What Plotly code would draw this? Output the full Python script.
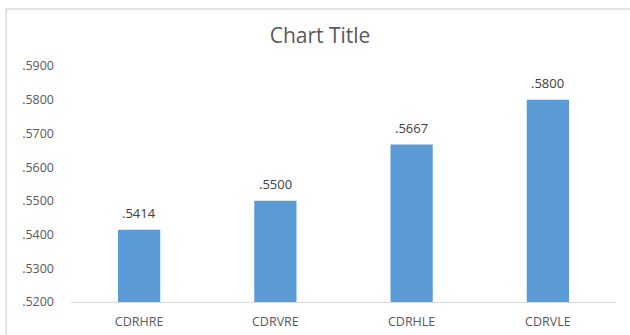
import plotly.graph_objects as go

categories = ["CDRHRE", "CDRVRE", "CDRHLE", "CDRVLE"]
values = [0.5414, 0.5500, 0.5667, 0.5800]
tick_vals = [0.52, 0.53, 0.54, 0.55, 0.56, 0.57, 0.58, 0.59]

def fmt(v):
    return ("%.4f" % v).lstrip("0")

FONT = "Open Sans, Lato, sans-serif"

fig = go.Figure(go.Bar(
    x=categories, y=values,
    marker=dict(color="#5B9BD5", line=dict(width=0)),
    width=0.31,
))

for c, v in zip(categories, values):
    fig.add_annotation(x=c, y=v, text=fmt(v), showarrow=False, yanchor="bottom",
                       yshift=6, font=dict(family=FONT, size=13, color="#404040"))

fig.update_layout(
    width=630, height=335,
    margin=dict(l=71, r=14, t=66, b=33),
    paper_bgcolor="white", plot_bgcolor="white",
    showlegend=False,
    title=dict(text="Chart Title", x=0.508, xanchor="center", y=0.895, yanchor="middle",
               font=dict(family=FONT, size=21, color="#595959")),
    font=dict(family=FONT, size=12, color="#595959"),
)
fig.update_xaxes(showline=True, linecolor="#D9D9D9", linewidth=1, ticks="",
                 showgrid=False, ticklabelstandoff=8, automargin=False,
                 tickfont=dict(size=12.5, color="#595959"))
fig.update_yaxes(range=[0.52, 0.59], tickvals=tick_vals, ticktext=[fmt(v) for v in tick_vals],
                 showgrid=False, zeroline=False, showline=False, ticks="", automargin=False,
                 ticklabelstandoff=16, tickfont=dict(size=12.5, color="#595959"))
fig.add_shape(type="rect", xref="paper", yref="paper",
              x0=-0.119, x1=1.2, y0=-0.5, y1=1.2415,
              line=dict(color="#D9D9D9", width=1.5), fillcolor="rgba(0,0,0,0)", layer="below")

fig.write_html("out.html")
